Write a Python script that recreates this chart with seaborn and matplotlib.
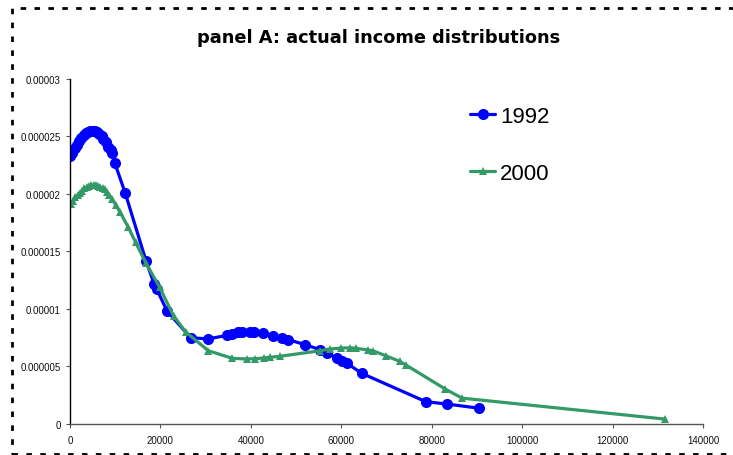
import matplotlib
matplotlib.use("Agg")
import matplotlib.pyplot as plt
import matplotlib.ticker as ticker
from matplotlib.patches import Rectangle
import pandas as pd
import seaborn as sns

# --- data ---
income_1992 = [0, 500, 1000, 1500, 2000, 2500, 3000, 3500, 4000, 4500, 5000,
               5500, 6000, 6500, 7000, 7400, 8000, 8500, 9000, 9200, 9900,
               12200, 16800, 18600, 19200, 21500, 26700, 30500, 34700, 35800,
               37200, 38000, 39800, 40600, 42600, 45000, 46800, 48300, 52000,
               55300, 56900, 59000, 60100, 61200, 64500, 78700, 83300, 90500]
density_1992 = [2.33e-5, 2.36e-5, 2.40e-5, 2.43e-5, 2.46e-5, 2.49e-5, 2.51e-5,
                2.53e-5, 2.54e-5, 2.55e-5, 2.55e-5, 2.55e-5, 2.54e-5, 2.52e-5,
                2.50e-5, 2.48e-5, 2.45e-5, 2.41e-5, 2.38e-5, 2.36e-5, 2.27e-5,
                2.01e-5, 1.42e-5, 1.22e-5, 1.17e-5, 0.98e-5, 0.75e-5, 0.74e-5,
                0.77e-5, 0.785e-5, 0.797e-5, 0.80e-5, 0.803e-5, 0.80e-5,
                0.789e-5, 0.768e-5, 0.748e-5, 0.733e-5, 0.69e-5, 0.646e-5,
                0.615e-5, 0.574e-5, 0.551e-5, 0.53e-5, 0.441e-5, 0.194e-5,
                0.174e-5, 0.137e-5]

income_2000 = [200, 700, 1200, 1700, 2200, 2700, 3200, 3700, 4200, 4700, 5200,
               5700, 6200, 6700, 7200, 7700, 8100, 8700, 9300, 10200, 11100,
               12900, 14500, 16800, 19800, 22900, 25600, 30600, 35900, 39100,
               41000, 42800, 44200, 46500, 55300, 57500, 60000, 61900, 63300,
               66000, 67100, 69800, 72900, 74300, 83000, 86700, 131500]
density_2000 = [1.91e-5, 1.94e-5, 1.97e-5, 1.99e-5, 2.01e-5, 2.03e-5, 2.05e-5,
                2.06e-5, 2.07e-5, 2.08e-5, 2.08e-5, 2.08e-5, 2.07e-5, 2.06e-5,
                2.05e-5, 2.04e-5, 2.02e-5, 1.99e-5, 1.96e-5, 1.90e-5, 1.84e-5,
                1.71e-5, 1.58e-5, 1.40e-5, 1.19e-5, 0.94e-5, 0.80e-5, 0.637e-5,
                0.571e-5, 0.565e-5, 0.568e-5, 0.574e-5, 0.58e-5, 0.589e-5,
                0.637e-5, 0.652e-5, 0.66e-5, 0.663e-5, 0.658e-5, 0.643e-5,
                0.635e-5, 0.594e-5, 0.545e-5, 0.513e-5, 0.304e-5, 0.225e-5,
                0.043e-5]

years = ["1992", "2000"]
x_ticks = [0, 20000, 40000, 60000, 80000, 100000, 120000, 140000]
y_ticks = [0, 0.000005, 0.00001, 0.000015, 0.00002, 0.000025, 0.00003]
y_tick_labels = ["0", "0.000005", "0.00001", "0.000015", "0.00002",
                 "0.000025", "0.00003"]

df = pd.concat([
    pd.DataFrame({"income": income_1992, "density": density_1992, "year": years[0]}),
    pd.DataFrame({"income": income_2000, "density": density_2000, "year": years[1]}),
], ignore_index=True)

sns.set_style("white")
plt.rcParams["font.family"] = ["Liberation Sans", "DejaVu Sans"]
plt.rcParams["text.color"] = "black"

fig = plt.figure(figsize=(7.33, 4.56), dpi=100)
ax = fig.add_axes([0.0955, 0.068, 0.8635, 0.7566])

palette = {"1992": "#0000FF", "2000": "#339966"}
sns.lineplot(
    data=df, x="income", y="density", hue="year", style="year",
    markers={"1992": "o", "2000": "^"}, dashes=False, sort=False,
    palette=palette, linewidth=2.3, markeredgewidth=0, ax=ax,
)
for line in ax.get_lines():
    if line.get_marker() == "o":
        line.set_markersize(8)
    elif line.get_marker() == "^":
        line.set_markersize(5.5)

ax.set_xlim(0, 140000)
ax.set_ylim(0, 0.00003)
ax.set_xticks(x_ticks)
ax.xaxis.set_major_formatter(ticker.FuncFormatter(lambda v, p: f"{int(v)}"))
ax.set_yticks(y_ticks)
ax.set_yticklabels(y_tick_labels)
ax.set_xlabel("")
ax.set_ylabel("")

for side in ["top", "right"]:
    ax.spines[side].set_visible(False)
ax.spines["left"].set_color("black")
ax.spines["left"].set_linewidth(1.0)
ax.spines["bottom"].set_color("#555555")
ax.spines["bottom"].set_linewidth(1.0)
ax.tick_params(axis="both", which="major", direction="out", length=3,
               width=0.8, labelsize=7, labelcolor="#111111", color="#555555",
               bottom=True, left=True)
ax.tick_params(axis="x", pad=5)

handles, labels = ax.get_legend_handles_labels()
leg = ax.legend(handles, labels, loc="upper left", bbox_to_anchor=(0.6, 0.98),
                frameon=False, fontsize=16, labelspacing=1.62,
                handlelength=1.15, handletextpad=0.2)
for t in leg.get_texts():
    t.set_color("black")

fig.text(0.516, 0.917, "panel A: actual income distributions", ha="center",
         va="center", fontsize=12.8, fontweight="bold", family="DejaVu Sans",
         color="black")

# dashed frame around the chart area
fig.patches.append(Rectangle((12 / 733, 1 / 456), 1.0, 446 / 456,
                             transform=fig.transFigure, fill=False,
                             edgecolor="black", linewidth=2,
                             linestyle=(0, (2, 3)), clip_on=False))

fig.savefig("out.png", dpi=100)
